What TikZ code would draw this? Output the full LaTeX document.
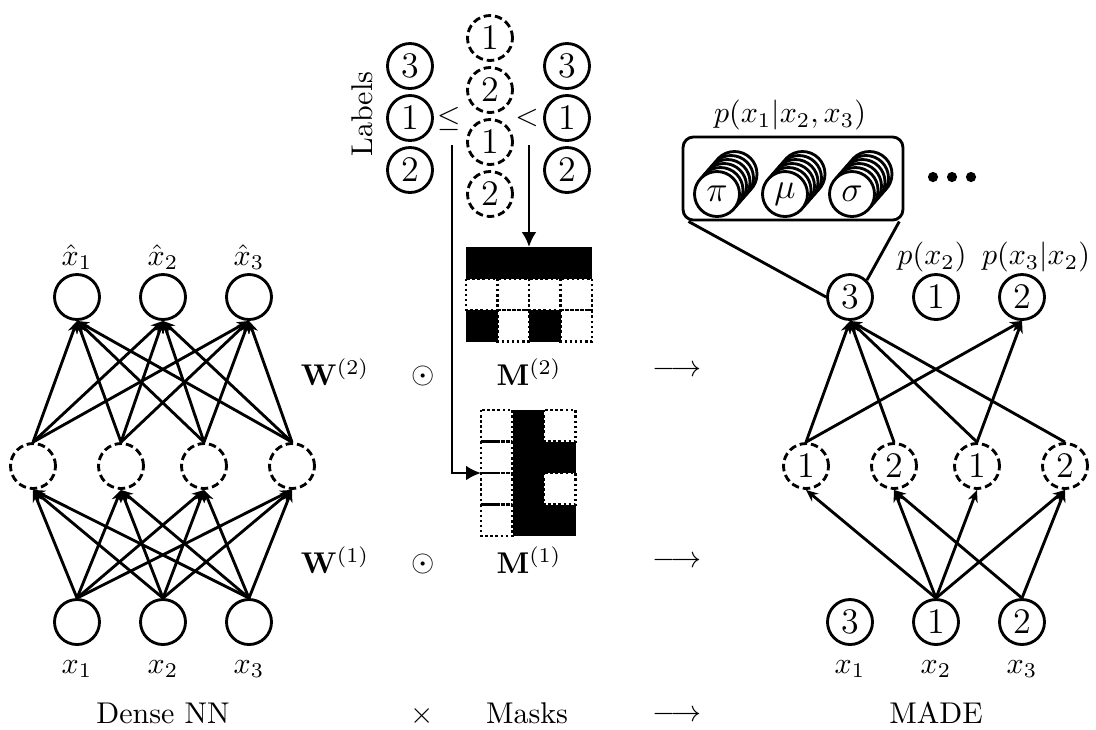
\documentclass[tikz,border=0pt]{standalone}
\usepackage{amsmath,amssymb}
\usetikzlibrary{arrows.meta,calc}
\begin{document}
\begin{tikzpicture}[x=0.3333pt,y=-0.3333pt,
  lw/.style={line width=0.95pt},
  nd/.style={circle,draw,lw,minimum size=15pt,inner sep=0pt,font=\large},
  hd/.style={nd,dash pattern=on 2.5pt off 1.3pt},
  ar/.style={lw,-{Stealth[length=4pt,width=3.4pt]}},
  lab/.style={inner sep=0pt},
  stk/.style={circle,draw,lw,fill=white,minimum size=15pt,inner sep=0pt},
  mw/.style={lw,dash pattern=on 0.8pt off 0.9pt},
  ma/.style={lw,-{Latex[length=5pt,width=5pt]}}
]
\useasboundingbox (0,0) rectangle (1096,729);

% ---------------- Dense NN ----------------
\foreach \n/\x in {1/77,2/163,3/249}{
  \node[nd] (lo\n) at (\x,297) {};
  \node[lab] (lol\n) at (\x,257) {$\hat{x}_\n$};
  \node[nd] (li\n) at (\x,622) {};
  \node[lab] (lil\n) at (\x,669) {$x_\n$};
}
\foreach \n/\x in {1/33,2/121,3/204,4/292}
  \node[hd] (lh\n) at (\x,466) {};
\foreach \a in {1,2,3}{
  \foreach \b in {1,...,4}{
    \draw[ar] (lh\b.north) -- (lo\a.south);
    \draw[ar] (li\a.north) -- (lh\b.south);
  }
}
\node[lab] (dense) at (163,713) {Dense NN};

% ---------------- Middle ----------------
\node[lab] (w2) at (335,372) {$\mathbf{W}^{(2)}$};
\node[lab] (o2) at (423,376) {$\odot$};
\node[lab] (mm2) at (529,372) {$\mathbf{M}^{(2)}$};
\node[lab] (a2) at (677,371) {$\longrightarrow$};
\node[lab] (w1) at (335,560) {$\mathbf{W}^{(1)}$};
\node[lab] (o1) at (423,564) {$\odot$};
\node[lab] (mm1) at (529,560) {$\mathbf{M}^{(1)}$};
\node[lab] (a1) at (677,562) {$\longrightarrow$};
\node[lab] (times) at (422,716) {$\times$};
\node[lab] (masks) at (527,713) {Masks};
\node[lab] (a0) at (677,716) {$\longrightarrow$};

% labels column
\node[lab,rotate=90] (labels) at (362,114) {Labels};
\node[nd] (la1) at (410,66) {3};
\node[nd] (la2) at (410,118) {1};
\node[nd] (la3) at (410,170) {2};
\node[hd] (lb1) at (490,38) {1};
\node[hd] (lb2) at (490,90) {2};
\node[hd] (lb3) at (490,142) {1};
\node[hd] (lb4) at (490,194) {2};
\node[nd] (lc1) at (567,66) {3};
\node[nd] (lc2) at (567,118) {1};
\node[nd] (lc3) at (567,170) {2};
\node[lab] (leq) at (449,119) {$\leq$};
\node[lab] (lt) at (527,118) {$<$};

% mask M2 (3x4), top-left (466,247)
\foreach \r/\c in {2/1,2/2,2/3,2/4,3/2,3/4}
  \draw[mw] ({466+(\c-1)*31.5},{247+(\r-1)*31.5}) rectangle ++(31.5,31.5);
\foreach \r/\c in {1/1,1/2,1/3,1/4,3/1,3/3}
  \fill ({466+(\c-1)*31.5},{247+(\r-1)*31.5}) rectangle ++(31.5,31.5);
% mask M1 (4x3), top-left (481,410)
\foreach \r/\c in {1/1,2/1,3/1,4/1,1/3,3/3}
  \draw[mw] ({481+(\c-1)*31.5},{410+(\r-1)*31.5}) rectangle ++(31.5,31.5);
\foreach \r/\c in {1/2,2/2,3/2,4/2,2/3,4/3}
  \fill ({481+(\c-1)*31.5},{410+(\r-1)*31.5}) rectangle ++(31.5,31.5);

\coordinate (lv) at (452,145);
\coordinate (rv) at (529,145);
\coordinate (m1w) at (481,473);
\coordinate (m2n) at (529,247);
\draw[ma] (lv) |- (m1w);
\draw[ma] (rv) -- (m2n);

% ---------------- MADE ----------------
\node[nd] (ro1) at (850,297) {3};
\node[nd] (ro2) at (936,297) {1};
\node[nd] (ro3) at (1022,297) {2};
\node[hd] (rh1) at (806,466) {1};
\node[hd] (rh2) at (894,466) {2};
\node[hd] (rh3) at (977,466) {1};
\node[hd] (rh4) at (1065,466) {2};
\node[nd] (ri1) at (850,622) {3};
\node[nd] (ri2) at (936,622) {1};
\node[nd] (ri3) at (1022,622) {2};
\foreach \n/\x in {1/850,2/936,3/1022}
  \node[lab] (ril\n) at (\x,669) {$x_\n$};
\node[lab] (made) at (936,713) {MADE};
\node[lab] (px2) at (932,257) {$p(x_2)$};
\node[lab] (px3) at (1036,257) {$p(x_3|x_2)$};

\foreach \b in {1,...,4} \draw[ar] (rh\b.north) -- (ro1.south);
\foreach \b in {1,3} \draw[ar] (rh\b.north) -- (ro3.south);
\foreach \b in {1,...,4} \draw[ar] (ri2.north) -- (rh\b.south);
\foreach \b in {2,4} \draw[ar] (ri3.north) -- (rh\b.south);

% mixture box
\node[draw,lw,rounded corners=3.5pt,minimum width=73.3pt,minimum height=27.7pt,inner sep=0pt] (box) at (793,178.5) {};
\node[lab] (pbox) at (790,115) {$p(x_1|x_2,x_3)$};
\foreach \s/\x/\t in {pi/717/\pi,mu/785/\mu,sg/852/\sigma}{
  \foreach \k in {5,4,...,1}
    \node[stk] (\s\k) at ({\x+3.5*\k},{194-4*\k}) {};
  \node[stk,font=\large] (\s0) at (\x,194) {$\t$};
}
\draw[lw] ([xshift=2.3pt]box.south west) -- (ro1.west);
\draw[lw] ([xshift=-1.7pt]box.south east) -- (ro1.north east);
\foreach \n/\x in {1/933,2/952,3/971}
  \node[circle,fill,inner sep=0pt,minimum size=3.4pt] (dot\n) at (\x,177) {};
\end{tikzpicture}
\end{document}
